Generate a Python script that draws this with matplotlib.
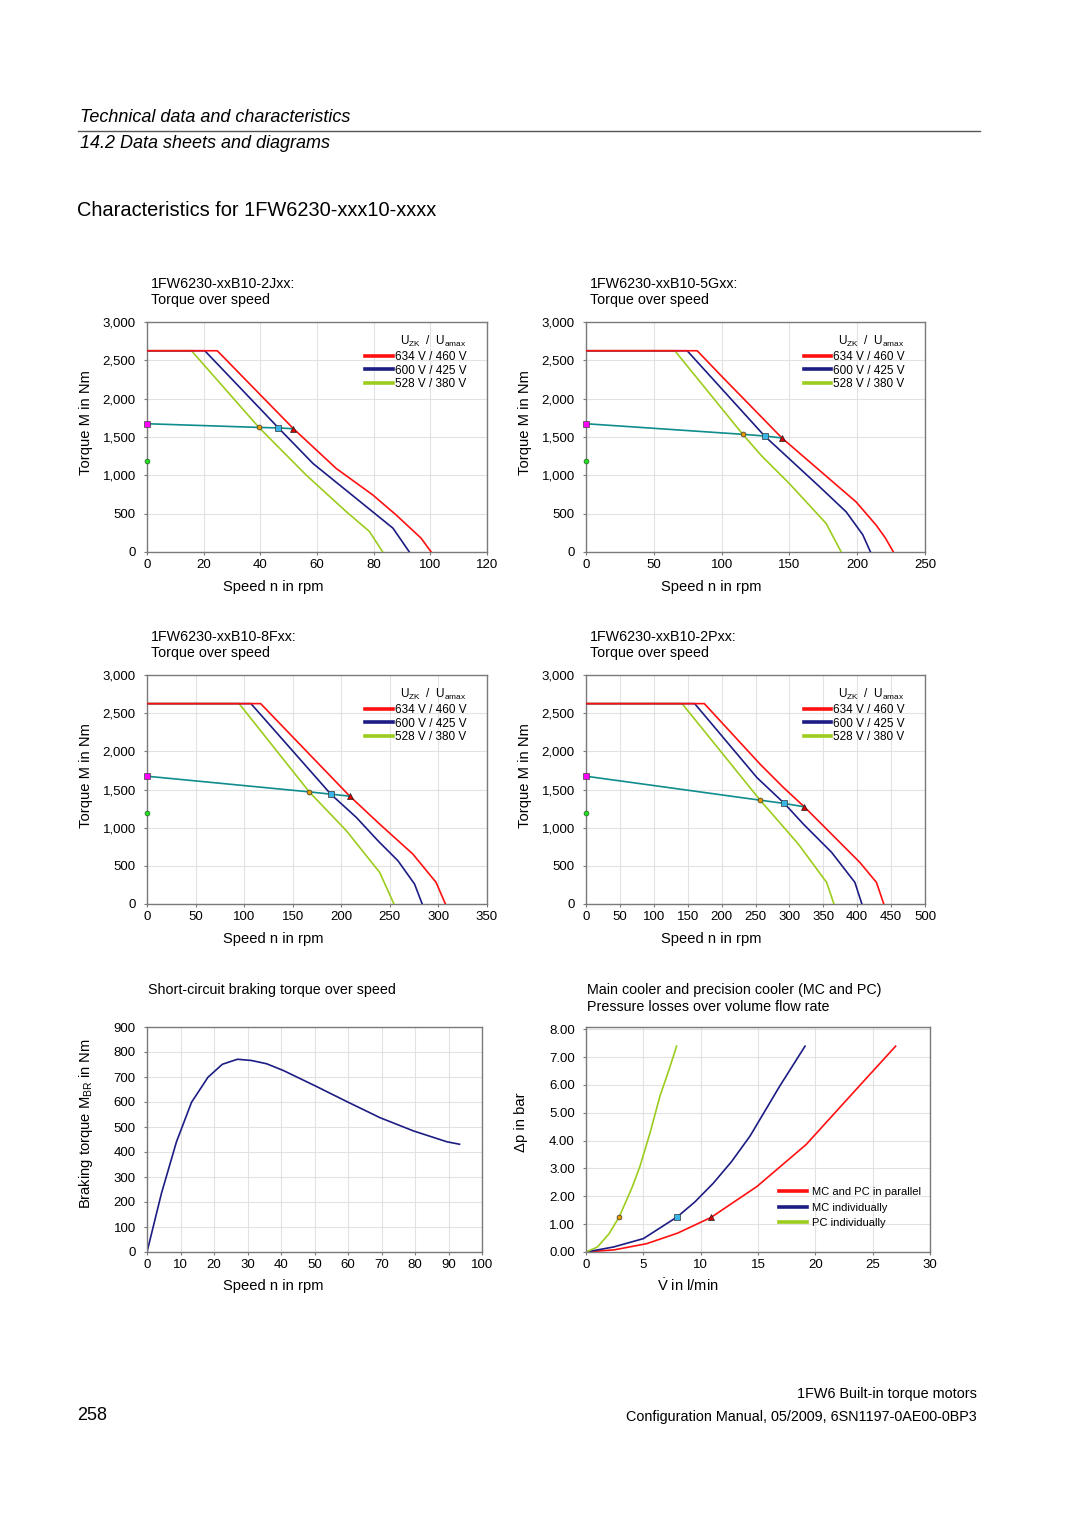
import numpy as np
import matplotlib
matplotlib.use("Agg")
import matplotlib.pyplot as plt
from matplotlib.lines import Line2D
from matplotlib.ticker import FuncFormatter

plt.rcParams['font.family'] = ['Liberation Sans', 'DejaVu Sans']
plt.rcParams['mathtext.fontset'] = 'custom'
plt.rcParams['mathtext.rm'] = 'Liberation Sans'
plt.rcParams['mathtext.it'] = 'Liberation Sans:italic'

# -- data
M_max = 2625

# 1FW6230-xxB10-2Jxx
n_2J_634 = [0, 24.8, 51.7, 66.8, 79.7, 87.9, 96.7, 100.3]
M_2J_634 = [M_max, M_max, 1608, 1089, 744, 484, 182, 0]
n_2J_600 = [0, 20.4, 46.4, 58.6, 77.4, 86.8, 92.6]
M_2J_600 = [M_max, M_max, 1618, 1154, 592, 311, 0]
n_2J_528 = [0, 15.7, 39.5, 56.2, 70.3, 78.5, 83.2]
M_2J_528 = [M_max, M_max, 1625, 1003, 527, 268, 0]
n_2J_lim = [0, 39.5, 46.4, 51.7]
M_2J_lim = [1673, 1625, 1618, 1608]
M_2J_dot = 1188

# 1FW6230-xxB10-5Gxx
n_5G_634 = [0, 82, 99.9, 144.5, 199.2, 214, 220.8, 226.7]
M_5G_634 = [M_max, M_max, 2295, 1487, 653, 350, 182, 0]
n_5G_600 = [0, 74.6, 131.7, 172.2, 191.9, 204.1, 209.8]
M_5G_600 = [M_max, M_max, 1513, 852, 523, 225, 0]
n_5G_528 = [0, 65.5, 115.6, 129.3, 150.1, 177.1, 188.2]
M_5G_528 = [M_max, M_max, 1535, 1258, 890, 372, 0]
n_5G_lim = [0, 115.6, 131.7, 144.5]
M_5G_lim = [1673, 1535, 1513, 1487]
M_5G_dot = 1189

# 1FW6230-xxB10-8Fxx
n_8F_634 = [0, 117, 208.7, 239.5, 273.7, 297.6, 307.2]
M_8F_634 = [M_max, M_max, 1413, 1047, 654, 283, 0]
n_8F_600 = [0, 107, 189.2, 215.5, 237.8, 258.3, 275.4, 283.3]
M_8F_600 = [M_max, M_max, 1439, 1134, 828, 567, 262, 0]
n_8F_528 = [0, 94.8, 167, 205.3, 239.5, 254.2]
M_8F_528 = [M_max, M_max, 1469, 959, 414, 0]
n_8F_lim = [0, 167, 189.2, 208.7]
M_8F_lim = [1674, 1469, 1439, 1413]
M_8F_dot = 1186

# 1FW6230-xxB10-2Pxx
n_2P_634 = [0, 174.5, 256.9, 291.2, 322, 403.9, 428.4, 439.2]
M_2P_634 = [M_max, M_max, 1831, 1526, 1273, 545, 283, 0]
n_2P_600 = [0, 160.3, 252, 292.6, 320.6, 362.3, 396.6, 406.9]
M_2P_600 = [M_max, M_max, 1657, 1317, 1047, 676, 283, 0]
n_2P_528 = [0, 141.7, 256.9, 313.2, 354.9, 365.7]
M_2P_528 = [M_max, M_max, 1360, 785, 283, 0]
n_2P_lim = [0, 256.9, 292.6, 322]
M_2P_lim = [1674, 1360, 1317, 1273]
M_2P_dot = 1186

# short-circuit braking torque
n_br = [0, 4.3, 8.8, 13.3, 18.2, 22.5, 27, 31.2, 35.7, 40.7, 50.6, 59.6, 69.6, 79.6, 89.5, 93.3]
M_br = [0, 234, 441, 599, 699, 751, 771, 766, 753, 726, 662, 602, 537, 484, 441, 431]

# pressure losses
V_par = [0, 2.5, 5.3, 8.0, 10.9, 14.9, 19.2, 23.3, 27.0]
p_par = [0, 0.08, 0.3, 0.68, 1.24, 2.35, 3.86, 5.72, 7.39]
V_mc = [0, 2.4, 5.0, 7.97, 9.5, 11.1, 12.7, 14.3, 16.9, 19.1]
p_mc = [0, 0.18, 0.48, 1.265, 1.8, 2.47, 3.25, 4.16, 5.96, 7.39]
V_pc = [0, 1.0, 2.0, 2.9, 4.0, 4.7, 5.6, 6.45, 7.2, 7.9]
p_pc = [0, 0.18, 0.65, 1.265, 2.3, 3.07, 4.3, 5.6, 6.5, 7.39]

volt_labels = ['634 V / 460 V', '600 V / 425 V', '528 V / 380 V']
cool_labels = ['MC and PC in parallel', 'MC individually', 'PC individually']

RED = '#ff1010'
BLUE = '#1c1c84'
GREEN = '#9ccc1e'
TEAL = '#108c8c'
GRID = '#e2e2e2'
SPINE = '#7a7a7a'

W, H = 1080, 1527
fig = plt.figure(figsize=(W / 100, H / 100), dpi=100)


def ax_px(l, t, r, b):
    return fig.add_axes([l / W, 1 - b / H, (r - l) / W, (b - t) / H])


def ftext(x, y, s, **kw):
    kw.setdefault('va', 'center')
    kw.setdefault('fontsize', 10.3)
    fig.text(x / W, 1 - y / H, s, **kw)


def style(ax):
    ax.grid(True, color=GRID, lw=0.8)
    ax.set_axisbelow(True)
    for sp in ax.spines.values():
        sp.set_color(SPINE)
        sp.set_linewidth(1.0)
    ax.tick_params(length=2, color=SPINE, labelsize=9.5)
    ax.tick_params(axis='y', pad=6)
    ax.tick_params(axis='x', pad=3)


def torque_chart(box, xmax, xstep, curves, lim, dot, title, xlab_x):
    ax = ax_px(*box)
    style(ax)
    cols = [RED, BLUE, GREEN]
    # red drawn on top, so the shared flat part shows red
    for (n, M), c, z in zip(curves, cols, [3.3, 3.2, 3.1]):
        ax.plot(n, M, color=c, lw=1.2, zorder=z)
    n_l, M_l = lim
    ax.plot(n_l, M_l, color=TEAL, lw=1.2, zorder=4)
    ax.plot(n_l[1], M_l[1], 'o', ms=3.5, mfc='#e89a00', mec='#333333', mew=0.5, zorder=5)
    ax.plot(n_l[2], M_l[2], 's', ms=4.5, mfc='#38b4e6', mec='#333333', mew=0.5, zorder=5)
    ax.plot(n_l[3], M_l[3], '^', ms=4.5, mfc='#d40000', mec='#222222', mew=0.5, zorder=5)
    ax.plot(0, M_l[0], 's', ms=4, mfc='#ff00ff', mec='#444444', mew=0.5, zorder=6, clip_on=False)
    ax.plot(0, dot, 'o', ms=3.5, mfc='#22dd22', mec='#226622', mew=0.5, zorder=6, clip_on=False)
    ax.set_xlim(0, xmax)
    ax.set_ylim(0, 3000)
    ax.set_xticks(np.arange(0, xmax + 1, xstep))
    ax.set_yticks(np.arange(0, 3001, 500))
    ax.yaxis.set_major_formatter(FuncFormatter(lambda v, p: '{:,}'.format(int(v))))
    handles = [Line2D([], [], color=c, lw=2.6) for c in cols]
    leg = ax.legend(handles, volt_labels, loc='upper right', bbox_to_anchor=(0.94, 0.948),
                    frameon=False, fontsize=8.5, handlelength=2.3, handletextpad=0.2,
                    labelspacing=0.15, borderpad=0, borderaxespad=0,
                    title=r'U$_{\mathrm{ZK}}$  /  U$_{\mathrm{amax}}$', title_fontsize=8.5)
    leg._legend_box.align = 'right'
    l, t, r, b = box
    ftext(l + 4, t - 38, title, ha='left')
    ftext(l + 4, t - 22, 'Torque over speed', ha='left')
    ftext(l - 61, t + 101, 'Torque M in Nm', rotation=90, ha='center', fontsize=10.6)
    ftext(xlab_x, b + 35, 'Speed n in rpm', ha='center', fontsize=10.6)
    return ax


ax1 = torque_chart((147, 322, 487, 552), 120, 20,
                   [(n_2J_634, M_2J_634), (n_2J_600, M_2J_600), (n_2J_528, M_2J_528)],
                   (n_2J_lim, M_2J_lim), M_2J_dot, '1FW6230-xxB10-2Jxx:', 273)
ax2 = torque_chart((586, 322, 925, 552), 250, 50,
                   [(n_5G_634, M_5G_634), (n_5G_600, M_5G_600), (n_5G_528, M_5G_528)],
                   (n_5G_lim, M_5G_lim), M_5G_dot, '1FW6230-xxB10-5Gxx:', 711)
ax3 = torque_chart((147, 675, 487, 904), 350, 50,
                   [(n_8F_634, M_8F_634), (n_8F_600, M_8F_600), (n_8F_528, M_8F_528)],
                   (n_8F_lim, M_8F_lim), M_8F_dot, '1FW6230-xxB10-8Fxx:', 273)
ax4 = torque_chart((586, 675, 925, 904), 500, 50,
                   [(n_2P_634, M_2P_634), (n_2P_600, M_2P_600), (n_2P_528, M_2P_528)],
                   (n_2P_lim, M_2P_lim), M_2P_dot, '1FW6230-xxB10-2Pxx:', 711)

# -- braking torque
ax5 = ax_px(147, 1027, 482, 1252)
style(ax5)
ax5.plot(n_br, M_br, color=BLUE, lw=1.2)
ax5.set_xlim(0, 100)
ax5.set_ylim(0, 900)
ax5.set_xticks(np.arange(0, 101, 10))
ax5.set_yticks(np.arange(0, 901, 100))
ftext(148, 990, 'Short-circuit braking torque over speed', ha='left')
ftext(86, 1124, r'Braking torque M$_{\mathrm{BR}}$ in Nm', rotation=90, ha='center', fontsize=10.6)
ftext(273, 1286, 'Speed n in rpm', ha='center', fontsize=10.6)

# -- pressure losses
ax6 = ax_px(586, 1027, 930, 1252)
style(ax6)
ax6.plot(V_par, p_par, color=RED, lw=1.2)
ax6.plot(V_mc, p_mc, color=BLUE, lw=1.2)
ax6.plot(V_pc, p_pc, color=GREEN, lw=1.2)
ax6.plot(V_pc[3], p_pc[3], 'o', ms=3.5, mfc='#e89a00', mec='#333333', mew=0.5, zorder=5)
ax6.plot(V_mc[3], p_mc[3], 's', ms=4.5, mfc='#38b4e6', mec='#333333', mew=0.5, zorder=5)
ax6.plot(V_par[4], p_par[4], '^', ms=4.5, mfc='#d40000', mec='#222222', mew=0.5, zorder=5)
ax6.set_xlim(0, 30)
ax6.set_ylim(0, 8.08)
ax6.set_xticks(np.arange(0, 31, 5))
ax6.set_yticks(np.arange(0, 8.01, 1))
ax6.yaxis.set_major_formatter(FuncFormatter(lambda v, p: '%.2f' % v))
handles = [Line2D([], [], color=c, lw=2.6) for c in [RED, BLUE, GREEN]]
ax6.legend(handles, cool_labels, loc='lower right', bbox_to_anchor=(0.975, 0.105),
           frameon=False, fontsize=8, handlelength=2.5, handletextpad=0.5,
           labelspacing=0.5, borderpad=0, borderaxespad=0)
ftext(587, 990, 'Main cooler and precision cooler (MC and PC)', ha='left')
ftext(587, 1007, 'Pressure losses over volume flow rate', ha='left')
ftext(521, 1122, '\u0394p in bar', rotation=90, ha='center', fontsize=10.6)
ftext(688, 1286, r'$\dot{\mathrm{V}}$ in l/min', ha='center', fontsize=10.6)

# -- page text
ftext(80, 118, 'Technical data and characteristics', ha='left', fontsize=13, style='italic')
fig.add_artist(Line2D([78 / W, 980 / W], [1 - 131 / H, 1 - 131 / H], color='#555555', lw=1))
ftext(80, 144, '14.2 Data sheets and diagrams', ha='left', fontsize=13, style='italic')
ftext(77, 210, 'Characteristics for 1FW6230-xxx10-xxxx', ha='left', fontsize=14.4)
ftext(977, 1394, '1FW6 Built-in torque motors', ha='right', fontsize=10.4)
ftext(977, 1417, 'Configuration Manual, 05/2009, 6SN1197-0AE00-0BP3', ha='right', fontsize=10.4)
ftext(77, 1415, '258', ha='left', fontsize=13)

fig.savefig('out.png', dpi=100)
